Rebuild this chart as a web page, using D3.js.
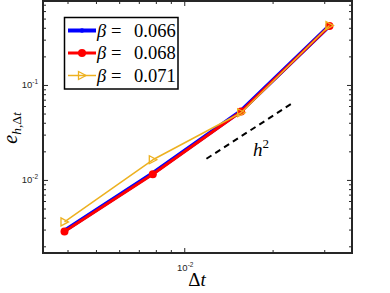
<!DOCTYPE html>
<html>
<head>
<meta charset="utf-8">
<script src="https://cdn.jsdelivr.net/npm/d3@7"></script>
<style>
  body { margin: 0; background: #fff; }
  svg { display: block; }
</style>
</head>
<body>
<div id="chart"></div>
<script>
// time steps and errors
var dtValues = [1 / 256, 1 / 128, 1 / 64, 1 / 32];
var errBeta066 = [0.00292, 0.0118, 0.0535, 0.42];
var errBeta068 = [0.00286, 0.0115, 0.0525, 0.418];
var errBeta071 = [0.00361, 0.0163, 0.051, 0.422];
var betaLabels = ["0.066", "0.068", "0.071"];

// reference slope line (h^2), two end points
var refDt = [0.0119, 0.0233];
var refErr = [0.0167, 0.064];

// tick values
var xMajorTicks = [0.01];
var xMinorTicks = [0.004, 0.005, 0.006, 0.007, 0.008, 0.009, 0.02, 0.03];
var yMajorTicks = [0.01, 0.1];
var yMinorTicks = [0.002, 0.003, 0.004, 0.005, 0.006, 0.007, 0.008, 0.009,
    0.02, 0.03, 0.04, 0.05, 0.06, 0.07, 0.08, 0.09, 0.2, 0.3, 0.4, 0.5, 0.6, 0.7];

var svgWidth = 390;
var svgHeight = 293;
var box = { left: 43, right: 352, top: 1, bottom: 253 };

var svg = d3.select("#chart")
    .append("svg")
    .attr("width", svgWidth)
    .attr("height", svgHeight);

var xScale = d3.scaleLog()
    .domain([3.30e-3, 3.73e-2])
    .range([box.left, box.right]);

var yScale = d3.scaleLog()
    .domain([0.0017, 0.766])
    .range([box.bottom, box.top]);

var axisColor = "#262626";

// ticks, all pointing inward, on all four sides
function drawTicks(axisFn, scale, values, size, transform) {
    var g = svg.append("g")
        .attr("transform", transform)
        .call(axisFn(scale).tickValues(values).tickSize(size).tickFormat(""));
    g.select(".domain").remove();
    g.selectAll("line").attr("stroke", axisColor).attr("stroke-width", 1);
}
drawTicks(d3.axisBottom, xScale, xMajorTicks, -5, `translate(0,${box.bottom})`);
drawTicks(d3.axisBottom, xScale, xMinorTicks, -3, `translate(0,${box.bottom})`);
drawTicks(d3.axisTop, xScale, xMajorTicks, -5, `translate(0,${box.top})`);
drawTicks(d3.axisTop, xScale, xMinorTicks, -3, `translate(0,${box.top})`);
drawTicks(d3.axisLeft, yScale, yMajorTicks, -5, `translate(${box.left},0)`);
drawTicks(d3.axisLeft, yScale, yMinorTicks, -3, `translate(${box.left},0)`);
drawTicks(d3.axisRight, yScale, yMajorTicks, -5, `translate(${box.right},0)`);
drawTicks(d3.axisRight, yScale, yMinorTicks, -3, `translate(${box.right},0)`);

// axes box
svg.append("rect")
    .attr("x", box.left)
    .attr("y", box.top)
    .attr("width", box.right - box.left)
    .attr("height", box.bottom - box.top)
    .attr("fill", "none")
    .attr("stroke", axisColor)
    .attr("stroke-width", 2);

// tick labels 10^k
function expLabel(x, y, exp, anchor) {
    var t = svg.append("text")
        .attr("x", x)
        .attr("y", y)
        .attr("text-anchor", anchor)
        .attr("font-family", "Liberation Sans, Arial, sans-serif")
        .attr("font-size", 9.5)
        .attr("fill", axisColor);
    t.append("tspan").text("10");
    t.append("tspan").attr("dy", -4.5).attr("font-size", 6.5).text(exp);
}
yMajorTicks.forEach(function(v) {
    expLabel(38, yScale(v) + 3.5, "-" + Math.round(-Math.log10(v)), "end");
});
xMajorTicks.forEach(function(v) {
    expLabel(xScale(v) + 1, 271, "-" + Math.round(-Math.log10(v)), "middle");
});

// axis labels
var serif = "Liberation Serif, DejaVu Serif, serif";
var xLabel = svg.append("text")
    .attr("x", 197)
    .attr("y", 286)
    .attr("text-anchor", "middle")
    .attr("font-family", serif)
    .attr("font-size", 19)
    .attr("fill", "#000");
xLabel.append("tspan").text("Δ");
xLabel.append("tspan").attr("font-style", "italic").text("t");

var yLabel = svg.append("text")
    .attr("transform", "translate(17,128) rotate(-90)")
    .attr("text-anchor", "middle")
    .attr("font-family", serif)
    .attr("font-size", 20)
    .attr("fill", "#000");
yLabel.append("tspan").attr("font-style", "italic").text("e");
yLabel.append("tspan").attr("dy", 4).attr("font-size", 13.5).attr("font-style", "italic").text("h");
yLabel.append("tspan").attr("font-size", 13.5).text(",Δ");
yLabel.append("tspan").attr("font-size", 13.5).attr("font-style", "italic").text("t");

// series
var series = [
    { values: errBeta066, color: "#0000ff", width: 4, marker: "dot" },
    { values: errBeta068, color: "#ff0000", width: 3, marker: "circle" },
    { values: errBeta071, color: "#edb120", width: 1.5, marker: "triangle" }
];

var line = d3.line()
    .x(d => xScale(d[0]))
    .y(d => yScale(d[1]));

function drawMarker(g, s, cx, cy) {
    if (s.marker === "dot") {
        g.append("circle").attr("cx", cx).attr("cy", cy).attr("r", 2.2).attr("fill", s.color);
    } else if (s.marker === "circle") {
        g.append("circle").attr("cx", cx).attr("cy", cy).attr("r", 4).attr("fill", s.color);
    } else {
        g.append("path")
            .attr("d", `M${cx - 3.5},${cy - 4} L${cx + 4},${cy} L${cx - 3.5},${cy + 4} Z`)
            .attr("fill", "none")
            .attr("stroke", s.color)
            .attr("stroke-width", 1.3);
    }
}

series.forEach(function(s) {
    var pts = dtValues.map((d, i) => [d, s.values[i]]);
    svg.append("path")
        .datum(pts)
        .attr("d", line)
        .attr("fill", "none")
        .attr("stroke", s.color)
        .attr("stroke-width", s.width)
        .attr("stroke-linejoin", "round");
    var g = svg.append("g");
    pts.forEach(function(p) {
        drawMarker(g, s, xScale(p[0]), yScale(p[1]));
    });
});

// reference h^2 line
svg.append("path")
    .datum(refDt.map((d, i) => [d, refErr[i]]))
    .attr("d", line)
    .attr("fill", "none")
    .attr("stroke", "#000")
    .attr("stroke-width", 2)
    .attr("stroke-dasharray", "6,4.5");

var hLabel = svg.append("text")
    .attr("x", 253)
    .attr("y", 156)
    .attr("font-family", serif)
    .attr("font-size", 19)
    .attr("fill", "#000");
hLabel.append("tspan").attr("font-style", "italic").text("h");
hLabel.append("tspan").attr("dy", -8).attr("font-size", 13).text("2");

// legend
var legend = svg.append("g");
legend.append("rect")
    .attr("x", 64.5)
    .attr("y", 17.5)
    .attr("width", 113.5)
    .attr("height", 71.5)
    .attr("fill", "#fff")
    .attr("stroke", "#000")
    .attr("stroke-width", 1.5);

var legendRows = [30.5, 53, 75.5];
series.forEach(function(s, i) {
    var y = legendRows[i];
    legend.append("line")
        .attr("x1", 68).attr("x2", 96)
        .attr("y1", y).attr("y2", y)
        .attr("stroke", s.color)
        .attr("stroke-width", s.width);
    drawMarker(legend, s, 82, y);
    var t = legend.append("text")
        .attr("y", y + 6)
        .attr("font-family", serif)
        .attr("font-size", 18.5)
        .attr("fill", "#000");
    t.append("tspan").attr("x", 97).attr("font-style", "italic").text("β");
    t.append("tspan").attr("x", 111).text("=");
    t.append("tspan").attr("x", 134).text(betaLabels[i]);
});
</script>
</body>
</html>
